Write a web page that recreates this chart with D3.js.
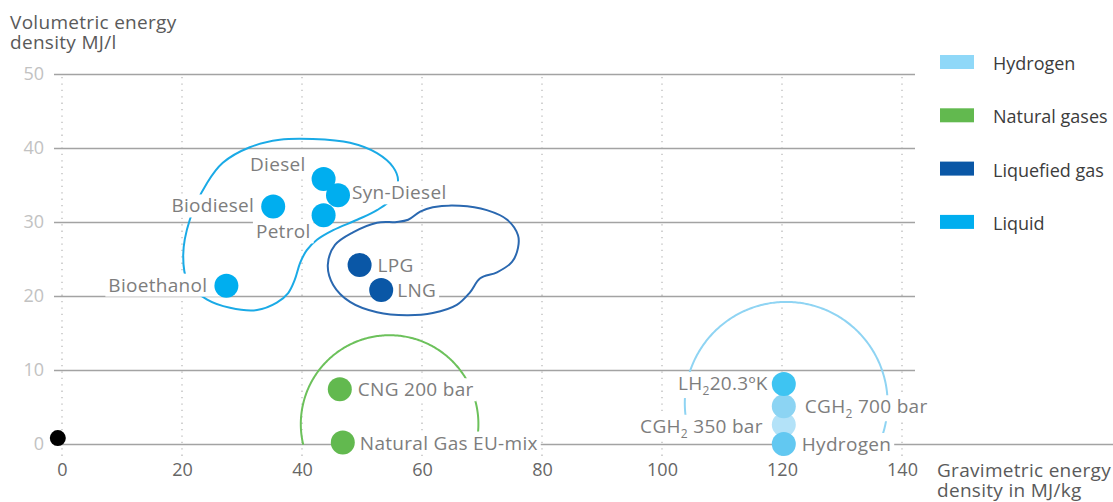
<!DOCTYPE html>
<html>
<head>
<meta charset="utf-8">
<script src="https://cdn.jsdelivr.net/npm/d3@7"></script>
<style>
  body { margin: 0; background: #fff; }
  svg { display: block; font-family: "Open Sans", sans-serif; }
</style>
</head>
<body>
<svg id="chart" width="1113" height="502"></svg>
<script>
// ---- Data -------------------------------------------------------------
const groups = ["Hydrogen", "Natural gases", "Liquefied gas", "Liquid"];
const groupColors = ["#8fd8f8", "#62b94f", "#0a57a6", "#00aeef"];

const fuelNames = ["Diesel", "Syn-Diesel", "Petrol", "Biodiesel", "Bioethanol",
  "LPG", "LNG", "CNG 200 bar", "Natural Gas EU-mix",
  "CGH₂ 350 bar", "CGH₂ 700 bar", "LH₂20.3ºK", "Hydrogen"];
const fuelGroup = [3, 3, 3, 3, 3, 2, 2, 1, 1, 0, 0, 0, 0];
// gravimetric energy density, MJ/kg
const gravimetric = [43.6, 46.0, 43.6, 35.2, 27.4, 49.6, 53.2, 46.3, 46.8, 120.3, 120.3, 120.3, 120.3];
// volumetric energy density, MJ/l
const volumetric = [35.8, 33.6, 30.9, 32.1, 21.4, 24.2, 20.8, 7.4, 0.2, 2.6, 5.1, 8.1, 0.0];

const xTicks = [0, 20, 40, 60, 80, 100, 120, 140];
const yTicks = [0, 10, 20, 30, 40, 50];

// outline around the liquid fuels, [MJ/kg, MJ/l]
const liquidOutline = [
  [56.0, 35.7], [55.2, 37.4], [52.5, 39.3], [48.0, 40.7], [41.8, 41.2], [36.3, 41.1],
  [31.3, 40.1], [26.8, 38.0], [24.2, 35.3], [21.3, 30.3], [20.2, 25.5], [21.0, 21.8],
  [24.2, 19.5], [28.0, 18.4], [32.5, 18.1], [35.8, 19.1], [37.7, 20.4], [38.8, 22.2],
  [39.7, 24.5], [40.8, 26.2], [42.5, 27.6], [45.2, 28.9], [49.2, 30.3], [52.5, 31.6],
  [55.0, 33.2]
];
// outline around the liquefied gases
const liquefiedOutline = [
  [57.7, 30.3], [59.7, 31.4], [61.8, 32.0], [66.3, 32.2], [70.8, 31.6], [74.2, 30.3],
  [76.0, 28.2], [76.0, 26.5], [75.0, 24.6], [72.5, 23.2], [69.7, 22.4], [68.0, 20.5],
  [65.8, 18.8], [61.8, 17.7], [57.5, 17.4], [52.5, 17.8], [48.0, 19.2], [45.2, 21.5],
  [44.3, 24.2], [45.5, 26.9], [48.5, 28.6], [52.5, 29.9], [55.8, 30.0]
];
// open arcs over the natural gases and hydrogen: centre, radii (data units), sweep in degrees
const naturalGasArc = { cx: 54.6, cy: 2.7, rx: 14.8, ry: 12.0, from: -5.7, to: 193.5 };
const hydrogenArc = { cx: 120.7, cy: 5.5, rx: 16.9, ry: 13.7, from: -20.0, to: 201.0 };

const originDot = [[-0.7, 0.8]];

// ---- Styling / layout --------------------------------------------------
const fuelFill = {
  "LH₂20.3ºK": "#3ec4f2", "CGH₂ 700 bar": "#8cd4f3",
  "CGH₂ 350 bar": "#b3e2f8", "Hydrogen": "#62c8f1"
};
const labelPlace = {
  "Diesel":             { dx: -18, dy: -8, anchor: "end" },
  "Syn-Diesel":         { dx: 14,  dy: 4,  anchor: "start" },
  "Petrol":             { dx: -13, dy: 23, anchor: "end" },
  "Biodiesel":          { dx: -19, dy: 6,  anchor: "end", bridge: true },
  "Bioethanol":         { dx: -19, dy: 6,  anchor: "end", bridge: true },
  "LPG":                { dx: 18,  dy: 7,  anchor: "start", bridge: true },
  "LNG":                { dx: 16,  dy: 7,  anchor: "start", bridge: true },
  "CNG 200 bar":        { dx: 18,  dy: 7,  anchor: "start", bridge: true },
  "Natural Gas EU-mix": { dx: 17,  dy: 7,  anchor: "start", bridge: true },
  "LH₂20.3ºK":          { dx: -16, dy: 6,  anchor: "end", bridge: true },
  "CGH₂ 700 bar":       { dx: 21,  dy: 7,  anchor: "start", bridge: true },
  "CGH₂ 350 bar":       { dx: -21, dy: 8,  anchor: "end", bridge: true },
  "Hydrogen":           { dx: 18,  dy: 7,  anchor: "start", bridge: true }
};
const textSize = 19;

const fuels = fuelNames.map((name, i) => ({
  name, group: groups[fuelGroup[i]], gx: gravimetric[i], vy: volumetric[i],
  fill: fuelFill[name] || groupColors[fuelGroup[i]]
}));

// ---- Scales ------------------------------------------------------------
const x = d3.scaleLinear().domain([0, 140]).range([62, 902]);
const y = d3.scaleLinear().domain([0, 50]).range([444, 74]);

const svg = d3.select("#chart");

// dotted vertical guides
svg.append("g").selectAll("line").data(xTicks).join("line")
  .attr("x1", d => x(d)).attr("x2", d => x(d))
  .attr("y1", 77).attr("y2", 456)
  .attr("stroke", "#b5b5b5").attr("stroke-width", 1.2)
  .attr("stroke-dasharray", "1.3,5.1");

// horizontal grid + y tick labels
const yAxis = svg.append("g").attr("transform", "translate(54,0)")
  .call(d3.axisLeft(y).tickValues(yTicks).tickSize(-(915 - 54)).tickPadding(10));
yAxis.select(".domain").remove();
yAxis.selectAll(".tick line").attr("stroke", "#a3a3a3").attr("stroke-width", 1.6)
  .filter(d => d === 0).attr("x2", 1113 - 54);
yAxis.selectAll(".tick text").attr("fill", "#c2c2c2")
  .attr("font-size", 18).attr("font-family", "Open Sans, sans-serif");

// x tick labels
const xAxis = svg.append("g").attr("transform", "translate(0,444)")
  .call(d3.axisBottom(x).tickValues(xTicks).tickSize(0).tickPadding(19));
xAxis.select(".domain").remove();
xAxis.selectAll(".tick text").attr("fill", "#666")
  .attr("font-size", 18).attr("font-family", "Open Sans, sans-serif");

// axis titles (two lines each)
function twoLineTitle(x0, y0, lines) {
  const t = svg.append("text").attr("x", x0).attr("y", y0)
    .attr("fill", "#5a5a5a").attr("font-size", textSize).attr("letter-spacing", 0.3);
  lines.forEach((s, i) => t.append("tspan").attr("x", x0).attr("dy", i ? 20 : 0).text(s));
}
twoLineTitle(10, 29, ["Volumetric energy", "density MJ/l"]);
twoLineTitle(937, 477, ["Gravimetric energy", "density in MJ/kg"]);

// ---- Enclosures -------------------------------------------------------
const closedLine = d3.line().x(d => x(d[0])).y(d => y(d[1])).curve(d3.curveCatmullRomClosed.alpha(0.5));
const openLine = d3.line().x(d => x(d[0])).y(d => y(d[1])).curve(d3.curveLinear);
const arcPoints = a => d3.range(0, 241).map(i => {
  const t = (a.from + (a.to - a.from) * i / 240) * Math.PI / 180;
  return [a.cx + a.rx * Math.cos(t), a.cy + a.ry * Math.sin(t)];
});

const encl = svg.append("g").attr("fill", "none").attr("stroke-width", 2);
encl.append("path").attr("d", closedLine(liquidOutline)).attr("stroke", "#1aaae6");
encl.append("path").attr("d", closedLine(liquefiedOutline)).attr("stroke", "#2a68b0");
encl.append("path").attr("d", openLine(arcPoints(naturalGasArc))).attr("stroke", "#6cc15b");
encl.append("path").attr("d", openLine(arcPoints(hydrogenArc))).attr("stroke", "#8fd4f3");

// ---- Labels with white backing ----------------------------------------
function richText(sel, str) {
  const parts = str.split("₂");
  parts.forEach((p, i) => {
    if (i > 0) sel.append("tspan").attr("font-size", 12).attr("dy", 5).text("2");
    const t = sel.append("tspan").text(p);
    if (i > 0) t.attr("dy", -5);
  });
}

const labels = svg.append("g").selectAll("g").data(fuels).join("g");
labels.each(function (d) {
  const g = d3.select(this);
  const L = labelPlace[d.name];
  const px = x(d.gx), py = y(d.vy);
  const t = g.append("text")
    .attr("x", px + L.dx).attr("y", py + L.dy)
    .attr("text-anchor", L.anchor)
    .attr("fill", "#7d7d7d").attr("font-size", textSize).attr("letter-spacing", 0.3);
  richText(t, d.name);
  const bb = t.node().getBBox();
  let x0 = bb.x - 3, x1 = bb.x + bb.width + 3;
  if (L.bridge) { if (L.anchor === "start") x0 = Math.min(x0, px); else x1 = Math.max(x1, px); }
  g.insert("rect", "text")
    .attr("x", x0).attr("y", bb.y + 2).attr("width", x1 - x0).attr("height", bb.height - 3)
    .attr("fill", "#fff");
});

// ---- Points -----------------------------------------------------------
svg.append("g").selectAll("circle").data(fuels).join("circle")
  .attr("cx", d => x(d.gx)).attr("cy", d => y(d.vy)).attr("r", 12)
  .attr("fill", d => d.fill);

svg.append("g").selectAll("circle").data(originDot).join("circle")
  .attr("cx", d => x(d[0])).attr("cy", d => y(d[1])).attr("r", 8).attr("fill", "#000");

// ---- Legend -----------------------------------------------------------
const legend = svg.append("g").selectAll("g").data(groups).join("g")
  .attr("transform", (d, i) => `translate(940,${62 + i * 53.3})`);
legend.append("rect").attr("x", 0).attr("y", -7).attr("width", 34).attr("height", 14)
  .attr("fill", (d, i) => groupColors[i]);
legend.append("text").attr("x", 53).attr("y", 8)
  .attr("fill", "#3c3c3c").attr("font-size", 18).attr("letter-spacing", 0)
  .text(d => d);
</script>
</body>
</html>
